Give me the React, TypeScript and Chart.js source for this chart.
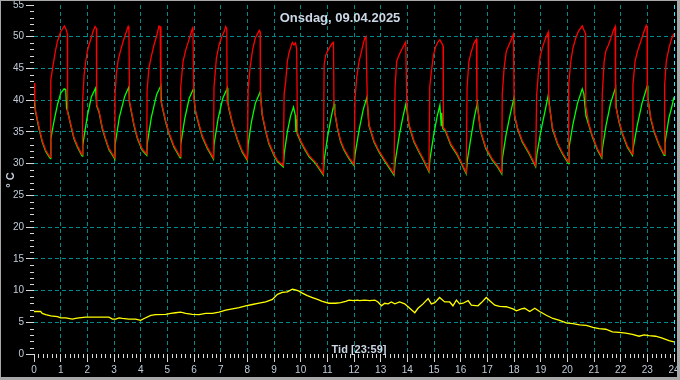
import React, { useEffect, useRef } from 'react';
import { Chart, registerables } from 'chart.js';

Chart.register(...registerables);

const CHART_TITLE = 'Onsdag, 09.04.2025';
const X_TITLE = 'Tid [23:59]';
const Y_TITLE = '° C';

const X_MIN = 0;
const X_MAX = 24;
const X_STEP = 1;
const X_MINOR_PER_STEP = 6;
const Y_MIN = 0;
const Y_MAX = 55;
const Y_STEP = 5;
const Y_MINOR_PER_STEP = 5;

// [hour, °C]
const redTemp: [number, number][] = [
  [0, 42.7], [0.03, 40.3], [0.06, 38.3], [0.19, 35.7], [0.31, 33.6], [0.44, 32.1], [0.59, 31.1], [0.62, 31.0],
  [0.63, 43.2], [0.69, 44.8], [0.75, 46.4], [0.81, 47.9], [0.88, 49.3], [0.94, 50.0], [1.0, 50.8], [1.09, 51.4], [1.14, 51.7], [1.19, 51.3], [1.25, 50.5],
  [1.26, 38.0], [1.38, 36.2], [1.5, 34.1], [1.63, 32.8], [1.79, 31.5], [1.81, 31.4],
  [1.82, 39.6], [1.88, 44.0], [1.94, 46.1], [2.0, 47.7], [2.06, 48.7], [2.13, 49.6], [2.21, 50.8], [2.29, 51.6], [2.34, 51.3],
  [2.35, 39.3], [2.44, 38.3], [2.56, 35.7], [2.69, 33.9], [2.81, 32.4], [2.96, 31.4], [3.03, 30.9],
  [3.04, 40.9], [3.09, 44.3], [3.16, 46.4], [3.25, 47.9], [3.34, 49.2], [3.44, 50.5], [3.53, 51.6], [3.56, 51.1],
  [3.58, 39.8], [3.63, 38.8], [3.75, 36.2], [3.88, 34.1], [4.06, 32.3], [4.23, 31.5],
  [4.24, 41.5], [4.31, 45.1], [4.41, 47.1], [4.5, 48.7], [4.59, 50.0], [4.69, 51.7], [4.73, 51.6],
  [4.76, 39.8], [4.81, 39.1], [4.94, 36.7], [5.06, 34.9], [5.25, 32.8], [5.48, 31.1],
  [5.5, 42.0], [5.59, 46.1], [5.69, 47.9], [5.81, 49.5], [5.94, 51.3], [5.96, 51.6],
  [5.99, 40.4], [6.06, 38.3], [6.19, 36.2], [6.31, 34.4], [6.5, 32.6], [6.73, 30.9],
  [6.75, 42.0], [6.84, 46.6], [6.94, 48.7], [7.04, 50.0], [7.13, 50.8], [7.19, 51.6], [7.23, 51.2],
  [7.24, 39.8], [7.31, 38.8], [7.44, 36.5], [7.63, 33.9], [7.81, 32.0], [8.0, 30.7],
  [8.03, 41.7], [8.1, 45.0], [8.2, 48.0], [8.3, 49.8], [8.4, 50.6], [8.45, 51.0], [8.48, 50.8],
  [8.49, 40.8], [8.56, 37.8], [8.69, 35.2], [8.81, 33.3], [9.0, 31.5], [9.13, 30.5], [9.35, 29.7],
  [9.38, 41.0], [9.44, 43.0], [9.5, 46.1], [9.56, 47.4], [9.63, 48.4], [9.69, 49.1], [9.75, 48.7], [9.81, 49.0], [9.85, 48.0],
  [9.88, 34.9], [10.0, 33.6], [10.13, 32.6], [10.31, 31.3], [10.56, 30.2], [10.85, 28.4],
  [10.88, 45.6], [10.94, 47.1], [11.03, 47.9], [11.1, 48.4], [11.19, 49.0], [11.23, 49.1],
  [11.25, 38.8], [11.38, 35.7], [11.5, 33.6], [11.63, 32.3], [11.81, 31.0], [12.0, 29.9],
  [12.04, 40.4], [12.1, 43.5], [12.19, 46.1], [12.28, 47.7], [12.35, 49.0], [12.41, 49.8], [12.45, 50.0],
  [12.5, 39.8], [12.56, 36.2], [12.75, 33.6], [12.94, 32.0], [13.13, 30.7], [13.5, 28.4],
  [13.54, 42.0], [13.6, 46.1], [13.69, 47.1], [13.78, 47.9], [13.88, 48.7], [13.94, 49.2],
  [13.98, 39.3], [14.06, 36.2], [14.25, 33.6], [14.44, 32.0], [14.63, 30.5], [14.81, 28.9],
  [14.84, 42.0], [14.9, 44.5], [14.98, 47.1], [15.06, 48.4], [15.15, 49.2], [15.22, 49.5], [15.29, 49.0], [15.34, 48.5],
  [15.35, 35.7], [15.44, 35.2], [15.63, 33.1], [15.88, 31.5], [16.06, 29.9], [16.21, 28.6],
  [16.24, 42.0], [16.31, 46.1], [16.38, 47.4], [16.44, 48.2], [16.5, 49.0], [16.59, 49.6],
  [16.61, 39.6], [16.75, 35.2], [16.94, 32.6], [17.19, 30.7], [17.38, 29.7], [17.54, 28.6],
  [17.56, 40.9], [17.63, 45.1], [17.71, 47.7], [17.81, 48.7], [17.91, 49.7], [17.98, 50.4],
  [18.01, 37.8], [18.13, 35.7], [18.31, 33.6], [18.56, 31.8], [18.81, 29.7],
  [18.85, 40.9], [18.91, 44.0], [18.98, 46.9], [19.06, 48.2], [19.16, 49.5], [19.28, 50.7],
  [19.3, 39.8], [19.44, 35.7], [19.63, 33.3], [19.81, 31.8], [20.04, 30.2],
  [20.05, 42.4], [20.13, 46.1], [20.21, 48.2], [20.31, 49.7], [20.41, 50.8], [20.56, 51.7], [20.63, 51.0], [20.68, 50.5],
  [20.69, 39.1], [20.81, 36.2], [20.94, 34.4], [21.13, 32.3], [21.29, 31.1],
  [21.31, 40.9], [21.38, 46.1], [21.44, 47.7], [21.54, 48.7], [21.63, 49.7], [21.71, 50.8], [21.79, 51.6],
  [21.81, 39.1], [21.94, 36.7], [22.06, 34.9], [22.25, 32.8], [22.44, 31.5],
  [22.46, 42.4], [22.54, 46.1], [22.63, 47.7], [22.75, 49.2], [22.85, 50.5], [22.96, 51.8], [22.99, 51.5],
  [23.0, 40.6], [23.13, 37.2], [23.25, 35.2], [23.44, 33.1], [23.63, 31.5],
  [23.65, 42.4], [23.71, 46.1], [23.81, 48.2], [23.91, 49.7], [24.0, 50.5],
];

const greenTemp: [number, number][] = [
  [0, 40.0], [0.06, 38.1], [0.19, 35.5], [0.31, 33.4], [0.44, 31.9], [0.59, 30.9], [0.62, 30.8],
  [0.63, 33.9], [0.75, 36.7], [0.88, 39.3], [1.0, 41.1], [1.13, 41.8], [1.19, 41.7], [1.22, 38.8], [1.29, 37.8], [1.38, 36.0], [1.5, 33.9], [1.63, 32.6], [1.79, 31.3], [1.81, 31.2],
  [1.83, 33.0], [2.0, 37.5], [2.15, 40.5], [2.31, 41.9], [2.35, 39.1], [2.44, 38.1], [2.56, 35.5], [2.69, 33.7], [2.81, 32.2], [2.96, 31.2], [3.03, 30.7],
  [3.04, 33.0], [3.2, 37.3], [3.4, 40.6], [3.56, 42.1], [3.58, 39.6], [3.63, 38.6], [3.75, 36.0], [3.88, 33.9], [4.06, 32.1], [4.23, 31.3],
  [4.24, 33.0], [4.4, 37.3], [4.6, 40.9], [4.76, 42.3], [4.78, 39.6], [4.81, 38.9], [4.94, 36.5], [5.06, 34.7], [5.25, 32.6], [5.48, 30.9],
  [5.5, 33.0], [5.65, 37.0], [5.82, 40.3], [5.99, 41.9], [6.02, 39.5], [6.06, 38.1], [6.19, 36.0], [6.31, 34.2], [6.5, 32.4], [6.73, 30.7],
  [6.75, 33.0], [6.9, 37.0], [7.08, 40.3], [7.25, 41.9], [7.27, 39.6], [7.31, 38.6], [7.44, 36.3], [7.63, 33.7], [7.81, 31.8], [8.0, 30.5],
  [8.03, 33.0], [8.15, 36.5], [8.3, 39.5], [8.48, 41.3], [8.5, 40.5], [8.56, 37.6], [8.69, 35.0], [8.81, 33.1], [9.0, 31.3], [9.13, 30.3], [9.35, 29.5],
  [9.38, 31.5], [9.5, 35.0], [9.62, 37.5], [9.73, 38.9], [9.8, 37.6], [9.82, 35.0], [9.84, 37.0], [9.87, 34.7], [10.0, 33.4], [10.13, 32.4], [10.31, 31.1], [10.56, 30.0], [10.85, 28.2],
  [10.88, 30.5], [11.0, 34.0], [11.13, 37.0], [11.25, 39.4], [11.28, 38.0], [11.38, 35.5], [11.5, 33.4], [11.63, 32.1], [11.81, 30.8], [12.0, 29.7],
  [12.04, 31.5], [12.2, 35.5], [12.35, 38.6], [12.48, 40.4], [12.51, 39.0], [12.56, 36.0], [12.75, 33.4], [12.94, 31.8], [13.13, 30.5], [13.5, 28.2],
  [13.55, 30.5], [13.7, 34.5], [13.83, 37.3], [13.94, 39.3], [13.98, 38.5], [14.06, 36.0], [14.25, 33.4], [14.44, 31.8], [14.63, 30.3], [14.81, 28.7],
  [14.85, 30.8], [15.0, 34.8], [15.12, 37.5], [15.22, 39.2], [15.27, 36.0], [15.29, 38.0], [15.33, 35.5], [15.44, 35.0], [15.63, 32.9], [15.88, 31.3], [16.06, 29.7], [16.21, 28.4],
  [16.25, 30.5], [16.4, 34.5], [16.52, 37.5], [16.63, 39.6], [16.65, 38.5], [16.75, 35.0], [16.94, 32.4], [17.19, 30.5], [17.38, 29.5], [17.54, 28.4],
  [17.57, 31.0], [17.7, 34.5], [17.85, 37.6], [18.0, 40.4], [18.02, 37.6], [18.13, 35.5], [18.31, 33.4], [18.56, 31.6], [18.81, 29.5],
  [18.86, 31.5], [19.0, 35.0], [19.15, 38.0], [19.29, 40.9], [19.32, 39.6], [19.44, 35.5], [19.63, 33.1], [19.81, 31.6], [20.04, 30.0],
  [20.06, 32.5], [20.2, 36.0], [20.38, 39.5], [20.56, 41.8], [20.62, 41.0], [20.66, 39.1], [20.7, 37.5], [20.81, 36.0], [20.94, 34.2], [21.13, 32.1], [21.29, 30.9],
  [21.32, 32.5], [21.45, 36.0], [21.62, 39.5], [21.81, 42.0], [21.83, 38.9], [21.94, 36.5], [22.06, 34.7], [22.25, 32.6], [22.44, 31.3],
  [22.47, 32.5], [22.62, 36.0], [22.8, 39.5], [23.0, 42.3], [23.02, 40.4], [23.13, 37.0], [23.25, 35.0], [23.44, 32.9], [23.63, 31.3],
  [23.66, 33.3], [23.81, 37.2], [23.92, 39.0], [24.0, 40.5],
];

const outdoorTemp: [number, number][] = [
  [0, 6.7], [0.25, 6.7], [0.31, 6.4], [0.44, 6.2], [0.63, 6.0], [0.88, 5.9], [1.0, 5.7], [1.19, 5.7], [1.44, 5.5], [1.56, 5.6],
  [1.69, 5.7], [1.94, 5.8], [2.31, 5.8], [2.81, 5.8], [2.94, 5.5], [3.06, 5.5], [3.19, 5.7], [3.31, 5.6], [3.56, 5.5], [3.81, 5.5],
  [4.0, 5.3], [4.13, 5.6], [4.38, 6.1], [4.56, 6.2], [4.94, 6.25], [5.13, 6.4], [5.31, 6.5], [5.5, 6.6], [5.69, 6.4], [5.94, 6.25],
  [6.19, 6.2], [6.44, 6.4], [6.69, 6.4], [6.94, 6.6], [7.19, 6.9], [7.44, 7.1], [7.69, 7.3], [7.94, 7.6], [8.19, 7.8], [8.44, 8.0],
  [8.69, 8.2], [8.94, 8.6], [9.13, 9.4], [9.31, 9.7], [9.5, 9.8], [9.69, 10.2], [9.81, 10.1], [9.94, 9.9], [10.06, 9.6], [10.25, 9.2],
  [10.44, 8.9], [10.63, 8.6], [10.81, 8.3], [11.06, 8.0], [11.31, 8.0], [11.5, 8.1], [11.69, 8.3], [11.81, 8.5], [12.0, 8.4], [12.13, 8.5],
  [12.21, 8.4], [12.4, 8.5], [12.59, 8.4], [12.78, 8.5], [12.9, 8.2], [13.03, 7.6], [13.15, 8.0], [13.28, 7.9], [13.4, 8.2], [13.53, 7.9],
  [13.71, 8.2], [13.9, 7.9], [14.09, 7.2], [14.28, 6.5], [14.4, 7.2], [14.59, 7.9], [14.78, 8.75], [14.9, 7.9], [15.03, 8.1], [15.21, 8.9],
  [15.4, 8.2], [15.59, 8.2], [15.71, 7.6], [15.84, 8.5], [15.96, 7.9], [16.09, 8.0], [16.28, 8.4], [16.4, 7.7], [16.65, 7.6], [16.78, 8.1],
  [16.96, 8.9], [17.09, 8.4], [17.28, 7.7], [17.46, 7.5], [17.71, 7.45], [17.96, 7.1], [18.09, 6.8], [18.28, 7.1], [18.4, 7.2], [18.59, 6.7],
  [18.78, 7.2], [18.96, 6.7], [19.21, 6.1], [19.46, 5.6], [19.71, 5.3], [19.96, 4.9], [20.21, 4.8], [20.46, 4.6], [20.71, 4.5], [20.96, 4.2],
  [21.19, 4.0], [21.44, 3.9], [21.69, 3.5], [21.94, 3.4], [22.19, 3.3], [22.44, 3.1], [22.69, 2.8], [22.88, 3.0], [23.06, 2.9], [23.31, 2.8],
  [23.56, 2.5], [23.81, 2.1], [24.0, 1.9],
];

const FONT = "'Liberation Sans', Arial, sans-serif";
const LABEL_COLOR = '#c0ccd8';
const TITLE_COLOR = '#ccd6e4';
const GRID_COLOR = '#008a8a';
const NOW_COLOR = '#30e8f8';
const TICK_COLOR = '#d8d8d8';
const FRAME_COLOR = '#a8a8a8';
const LINE_WIDTH = 1.3;

const toXY = (pts: [number, number][]) => pts.map(([x, y]) => ({ x, y }));

export default function App() {
  const ref = useRef<HTMLCanvasElement | null>(null);

  useEffect(() => {
    const canvas = ref.current;
    if (!canvas) return;

    const framePlugin = {
      id: 'framePlugin',
      beforeDraw(chart: any) {
        const ctx = chart.ctx;
        ctx.save();
        ctx.fillStyle = '#000000';
        ctx.fillRect(0, 0, chart.width, chart.height);
        ctx.restore();
      },
      afterDraw(chart: any) {
        const ctx = chart.ctx;
        const xs = chart.scales.x;
        const ys = chart.scales.y;
        ctx.save();
        // minor ticks
        ctx.strokeStyle = TICK_COLOR;
        ctx.lineWidth = 1;
        ctx.beginPath();
        const yMinorCount = ((Y_MAX - Y_MIN) / Y_STEP) * Y_MINOR_PER_STEP;
        for (let i = 0; i <= yMinorCount; i++) {
          if (i % Y_MINOR_PER_STEP === 0) continue;
          const v = Y_MIN + (i * Y_STEP) / Y_MINOR_PER_STEP;
          const py = Math.round(ys.getPixelForValue(v)) + 0.5;
          ctx.moveTo(ys.right - 4, py);
          ctx.lineTo(ys.right, py);
        }
        const xMinorCount = ((X_MAX - X_MIN) / X_STEP) * X_MINOR_PER_STEP;
        for (let i = 0; i <= xMinorCount; i++) {
          if (i % X_MINOR_PER_STEP === 0) continue;
          const v = X_MIN + (i * X_STEP) / X_MINOR_PER_STEP;
          const px = Math.round(xs.getPixelForValue(v)) + 0.5;
          ctx.moveTo(px, xs.top);
          ctx.lineTo(px, xs.top + 4);
        }
        ctx.stroke();

        // texts
        ctx.fillStyle = TITLE_COLOR;
        ctx.textAlign = 'center';
        ctx.textBaseline = 'alphabetic';
        ctx.font = `bold 13px ${FONT}`;
        ctx.fillText(CHART_TITLE, 340, 22);
        ctx.font = `bold 11px ${FONT}`;
        ctx.fillText(X_TITLE, 359, 353);
        ctx.translate(14, 180);
        ctx.rotate(-Math.PI / 2);
        ctx.fillText(Y_TITLE, 0, 0);
        ctx.setTransform(1, 0, 0, 1, 0, 0);

        // frame
        ctx.fillStyle = FRAME_COLOR;
        ctx.fillRect(0, 0, chart.width, 1);
        ctx.fillRect(0, 0, 1, chart.height);
        ctx.fillRect(chart.width - 3, 0, 3, chart.height);
        ctx.fillRect(0, chart.height - 3, chart.width, 3);
        ctx.restore();
      },
    };

    const chart = new Chart(canvas, {
      type: 'line',
      data: {
        datasets: [
          {
            label: 'Tur',
            data: toXY(redTemp),
            borderColor: '#ff0000',
            backgroundColor: '#ff0000',
            borderWidth: LINE_WIDTH,
            pointRadius: 0,
            tension: 0,
            fill: false,
          },
          {
            label: 'Retur',
            data: toXY(greenTemp),
            borderColor: '#00ff00',
            backgroundColor: '#00ff00',
            borderWidth: LINE_WIDTH,
            pointRadius: 0,
            tension: 0,
            fill: false,
          },
          {
            label: 'Ute',
            data: toXY(outdoorTemp),
            borderColor: '#ffff00',
            backgroundColor: '#ffff00',
            borderWidth: LINE_WIDTH,
            pointRadius: 0,
            tension: 0,
            fill: false,
          },
        ],
      },
      options: {
        animation: false,
        responsive: false,
        devicePixelRatio: 1,
        events: [],
        layout: { padding: { top: 5, right: 6, left: 0, bottom: 0 } },
        plugins: {
          legend: { display: false },
          tooltip: { enabled: false },
          title: { display: false },
        },
        scales: {
          x: {
            type: 'linear',
            min: X_MIN,
            max: X_MAX,
            afterFit: (s: any) => {
              s.height = 26;
              s.paddingLeft = 0;
              s.paddingRight = 0;
            },
            ticks: {
              stepSize: X_STEP,
              color: LABEL_COLOR,
              font: { family: FONT, size: 10 },
              padding: 2,
              maxRotation: 0,
              autoSkip: false,
            },
            grid: {
              color: (c: any) => {
                const v = c.tick ? c.tick.value : null;
                if (v === X_MIN) return 'rgba(0,0,0,0)';
                if (v === X_MAX) return NOW_COLOR;
                return GRID_COLOR;
              },
              lineWidth: 1,
              tickLength: 8,
              tickColor: TICK_COLOR,
              tickBorderDash: [],
            },
            border: { display: false, dash: [4, 3] },
          },
          y: {
            type: 'linear',
            min: Y_MIN,
            max: Y_MAX,
            afterFit: (s: any) => {
              s.width = 34;
              s.paddingTop = 0;
              s.paddingBottom = 0;
            },
            ticks: {
              stepSize: Y_STEP,
              color: LABEL_COLOR,
              font: { family: FONT, size: 10 },
              padding: 2,
            },
            grid: {
              color: (c: any) => {
                const v = c.tick ? c.tick.value : null;
                if (v === Y_MIN || v === Y_MAX) return 'rgba(0,0,0,0)';
                return GRID_COLOR;
              },
              lineWidth: 1,
              tickLength: 8,
              tickColor: TICK_COLOR,
              tickBorderDash: [],
            },
            border: { display: false, dash: [4, 3] },
          },
        },
      } as any,
      plugins: [framePlugin],
    });

    return () => chart.destroy();
  }, []);

  return (
    <div style={{ position: 'fixed', left: 0, top: 0, width: 680, height: 380, background: '#000' }}>
      <canvas ref={ref} width={680} height={380} style={{ display: 'block', width: 680, height: 380 }} />
    </div>
  );
}
